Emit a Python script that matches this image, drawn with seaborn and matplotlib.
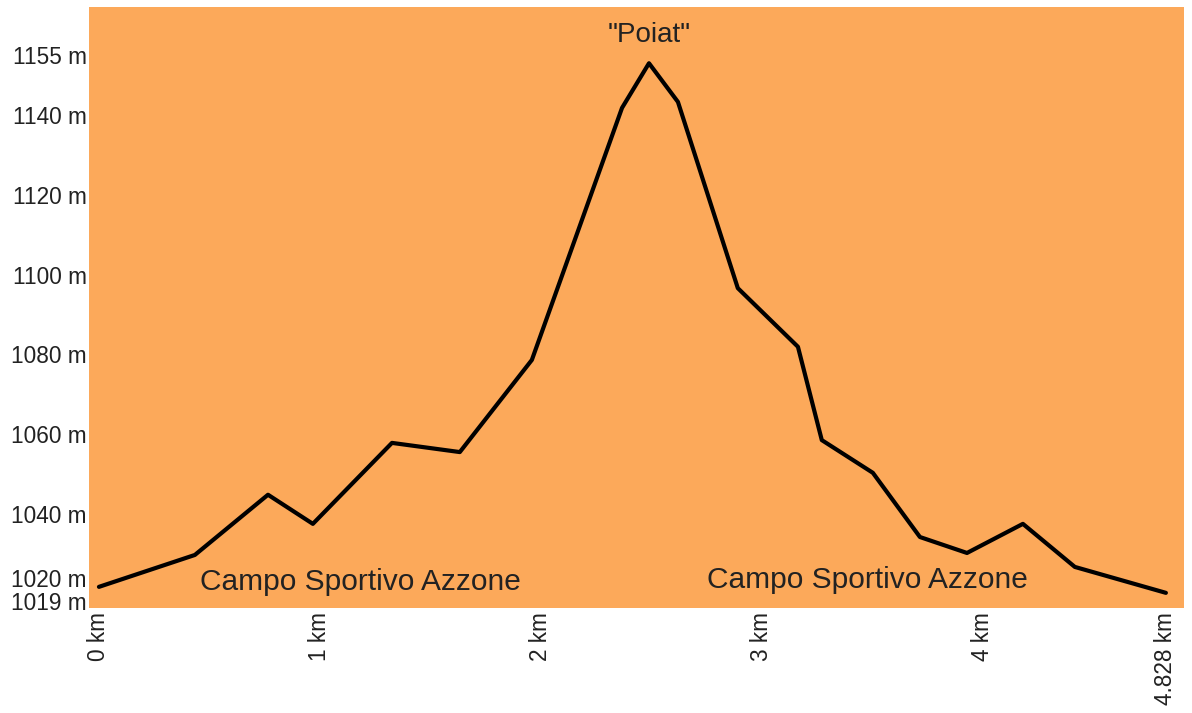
import pandas as pd
import matplotlib.pyplot as plt
import matplotlib.transforms as mtransforms
import seaborn as sns

# Profilo altimetrico
distanza_km = [0.0, 0.434, 0.765, 0.968, 1.326, 1.633, 1.959, 2.367, 2.489, 2.620,
               2.891, 3.163, 3.271, 3.502, 3.715, 3.928, 4.181, 4.416, 4.828]
quota_m = [1021.7, 1029.7, 1044.8, 1037.5, 1057.8, 1055.5, 1078.6, 1141.8, 1153.0, 1143.3,
           1096.6, 1081.9, 1058.5, 1050.3, 1034.2, 1030.2, 1037.5, 1026.7, 1020.2]

y_ticks = [1019, 1020, 1040, 1060, 1080, 1100, 1120, 1140, 1155]
x_ticks = [0, 1, 2, 3, 4, 4.828]
x_labels = ["0 km", "1 km", "2 km", "3 km", "4 km", "4.828 km"]

df = pd.DataFrame({"km": distanza_km, "quota": quota_m})

# Impostazioni visive
sns.set_theme(style="white")
plt.rcParams["font.family"] = ["Liberation Sans", "DejaVu Sans"]

fig = plt.figure(figsize=(11.92, 7.13), dpi=100)
ax = fig.add_axes([89 / 1192, 1 - 608 / 713, (1184 - 89) / 1192, (608 - 7) / 713])
ax.set_facecolor("#FCA95A")

sns.lineplot(data=df, x="km", y="quota", color="black", linewidth=3, ax=ax)

ax.set_xlim(-0.045, 4.91)
ax.set_ylim(1016.4, 1167.1)
ax.set_xlabel("")
ax.set_ylabel("")

ax.set_yticks(y_ticks)
ax.set_yticklabels([f"{v} m" for v in y_ticks])
ax.set_xticks(x_ticks)
ax.set_xticklabels(x_labels, rotation=90)
ax.tick_params(axis="both", length=0, labelsize=16.3, labelcolor="#222222")
ax.tick_params(axis="y", pad=1.5)
ax.tick_params(axis="x", pad=3)

# Etichette 1019 / 1020 spostate per non sovrapporsi
for lab in ax.get_yticklabels():
    if lab.get_text() == "1020 m":
        lab.set_transform(lab.get_transform() + mtransforms.ScaledTranslation(0, 16 / 100, fig.dpi_scale_trans))
    elif lab.get_text() == "1019 m":
        lab.set_transform(lab.get_transform() + mtransforms.ScaledTranslation(0, -3 / 100, fig.dpi_scale_trans))

for s in ax.spines.values():
    s.set_visible(False)

# Annotazioni
ax.text(2.489, 1160, '"Poiat"', ha="center", va="center", fontsize=20, color="#222222")
ax.text(0.457, 1022.8, "Campo Sportivo Azzone", ha="left", va="center", fontsize=21.5, color="#222222")
ax.text(2.75, 1023.4, "Campo Sportivo Azzone", ha="left", va="center", fontsize=21.5, color="#222222")

plt.savefig("out.png", dpi=100)
